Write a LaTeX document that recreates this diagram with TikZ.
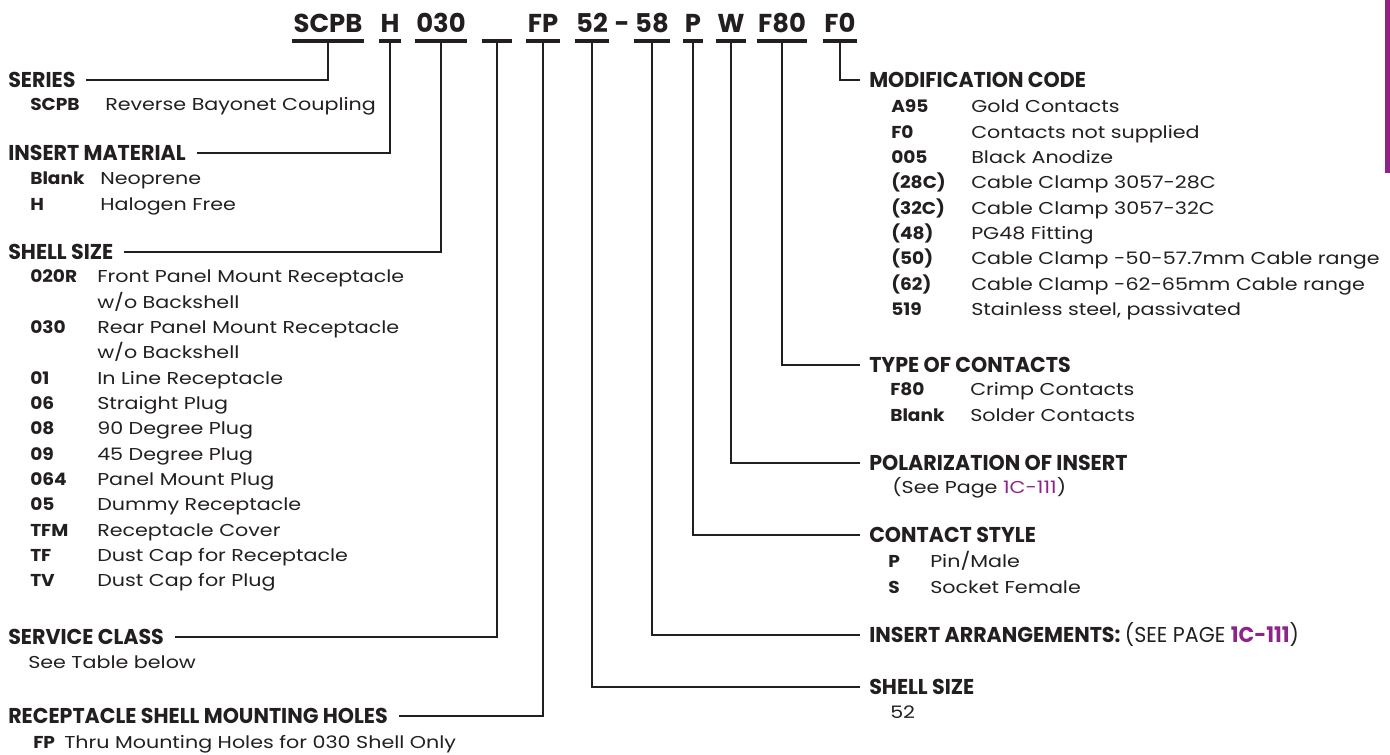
\documentclass[tikz,border=0pt]{standalone}
\usepackage{fontspec}
\usepackage{array}
\setmainfont{Poppins}[FakeStretch=1.2,BoldFeatures={FakeStretch=1.08}]
\newfontfamily\headfont{Poppins}[FakeStretch=0.96]
\newfontfamily\codefont{Poppins}
\definecolor{ink}{RGB}{35,31,32}
\definecolor{pagepurple}{RGB}{142,36,138}
\newcommand{\bodysize}{\fontsize{12.9}{19}\selectfont}

\begin{document}
\begin{tikzpicture}[x=0.75pt,y=-0.75pt,
  code/.style={font=\codefont\bfseries\fontsize{19.4}{20}\selectfont, text=ink,
    inner xsep=1pt, inner ysep=0pt, text height=13.5pt, text depth=5.6pt, anchor=base},
  uline/.style={ink, line width=3pt},
  leader/.style={ink, line width=1.7pt},
  head/.style={font=\headfont\bfseries\fontsize{16.1}{19}\selectfont, text=ink,
    inner sep=0pt, text height=11.25pt, text depth=0pt, anchor=west},
  list/.style={font=\bodysize, text=ink, inner sep=0pt, anchor=base west}]
  \useasboundingbox (0,0) rectangle (1390,755);
  \fill[pagepurple] (1385,0) rectangle (1390,173);

  % part number
  \node[code] (cSCPB) at (328,33) {SCPB};
  \node[code] (cH) at (390,33) {H};
  \node[code] (c030) at (441,33) {030};
  \node[code, minimum width=22.5pt] (cBlank) at (497,33) {};
  \node[code] (cFP) at (543,33) {FP};
  \node[code] (c52) at (592,33) {52};
  \node[code] (cDash) at (622,33) {-};
  \node[code] (c58) at (652,33) {58};
  \node[code] (cP) at (693,33) {P};
  \node[code] (cW) at (731,33) {W};
  \node[code] (cF80) at (782,33) {F80};
  \node[code] (cF0) at (840,33) {F0};
  \foreach \n in {cSCPB,cH,c030,cBlank,cFP,c52,c58,cP,cW,cF80,cF0}
    \draw[uline] (\n.south west) -- (\n.south east);

  % left side
  \node[head] (hSeries) at (8,80) {SERIES};
  \node[list] (lSeries) at (30,111) {\begin{tabular}[t]{@{}p{56.25pt}@{}l@{}}
    \textbf{SCPB} & Reverse Bayonet Coupling\end{tabular}};
  \node[head] (hInsert) at (8,153) {INSERT MATERIAL};
  \node[list] (lInsert) at (30,185) {\begin{tabular}[t]{@{}p{52.5pt}@{}l@{}}
    \textbf{Blank} & Neoprene\\
    \textbf{H} & Halogen Free\end{tabular}};
  \node[head] (hShellL) at (8,252) {SHELL SIZE};
  \node[list] (lShellL) at (30,283) {\begin{tabular}[t]{@{}p{50.25pt}@{}l@{}}
    \textbf{020R} & Front Panel Mount Receptacle\\
     & w/o Backshell\\
    \textbf{030} & Rear Panel Mount Receptacle\\
     & w/o Backshell\\
    \textbf{01} & In Line Receptacle\\
    \textbf{06} & Straight Plug\\
    \textbf{08} & 90 Degree Plug\\
    \textbf{09} & 45 Degree Plug\\
    \textbf{064} & Panel Mount Plug\\
    \textbf{05} & Dummy Receptacle\\
    \textbf{TFM} & Receptacle Cover\\
    \textbf{TF} & Dust Cap for Receptacle\\
    \textbf{TV} & Dust Cap for Plug\end{tabular}};
  \node[head] (hService) at (8,637) {SERVICE CLASS};
  \node[list] (lService) at (28,668) {See Table below};
  \node[head] (hHoles) at (8,716) {RECEPTACLE SHELL MOUNTING HOLES};
  \node[list] (lHoles) at (33,748) {\begin{tabular}[t]{@{}p{23.25pt}@{}l@{}}
    \textbf{FP} & Thru Mounting Holes for 030 Shell Only\end{tabular}};

  \draw[leader, shorten <=8pt] (hSeries.east) -| (cSCPB.south);
  \draw[leader, shorten <=8pt] (hInsert.east) -| (cH.south);
  \draw[leader, shorten <=8pt] (hShellL.east) -| (c030.south);
  \draw[leader, shorten <=8pt] (hService.east) -| (cBlank.south);
  \draw[leader, shorten <=8pt] (hHoles.east) -| (cFP.south);

  % right side
  \node[head] (hMod) at (869,80) {MODIFICATION CODE};
  \node[list] (lMod) at (891,113) {\begin{tabular}[t]{@{}p{60pt}@{}l@{}}
    \textbf{A95} & Gold Contacts\\
    \textbf{F0} & Contacts not supplied\\
    \textbf{005} & Black Anodize\\
    \textbf{(28C)} & Cable Clamp 3057-28C\\
    \textbf{(32C)} & Cable Clamp 3057-32C\\
    \textbf{(48)} & PG48 Fitting\\
    \textbf{(50)} & Cable Clamp -50-57.7mm Cable range\\
    \textbf{(62)} & Cable Clamp -62-65mm Cable range\\
    \textbf{519} & Stainless steel, passivated\end{tabular}};
  \node[head] (hType) at (869,365) {TYPE OF CONTACTS};
  \node[list] (lType) at (890,396) {\begin{tabular}[t]{@{}p{60pt}@{}l@{}}
    \textbf{F80} & Crimp Contacts\\
    \textbf{Blank} & Solder Contacts\end{tabular}};
  \node[head] (hPolar) at (869,463) {POLARIZATION OF INSERT};
  \node[list] (lPolar) at (892,494) {(See Page \textcolor{pagepurple}{1C-111})};
  \node[head] (hStyle) at (869,535) {CONTACT STYLE};
  \node[list] (lStyle) at (888,568) {\begin{tabular}[t]{@{}p{31.5pt}@{}l@{}}
    \textbf{P} & Pin/Male\\
    \textbf{S} & Socket Female\end{tabular}};
  \node[head] (hArr) at (869,635) {INSERT ARRANGEMENTS: {\mdseries (SEE PAGE
    \textcolor{pagepurple}{\bfseries 1C-111})}};
  \node[head] (hShellR) at (869,687) {SHELL SIZE};
  \node[list] (lShellR) at (890,718) {52};

  \draw[leader, shorten >=7pt] (cF0.south) |- (hMod.west);
  \draw[leader, shorten >=7pt] (cF80.south) |- (hType.west);
  \draw[leader, shorten >=7pt] (cW.south) |- (hPolar.west);
  \draw[leader, shorten >=7pt] (cP.south) |- (hStyle.west);
  \draw[leader, shorten >=7pt] (c58.south) |- (hArr.west);
  \draw[leader, shorten >=7pt] (c52.south) |- (hShellR.west);
\end{tikzpicture}
\end{document}
